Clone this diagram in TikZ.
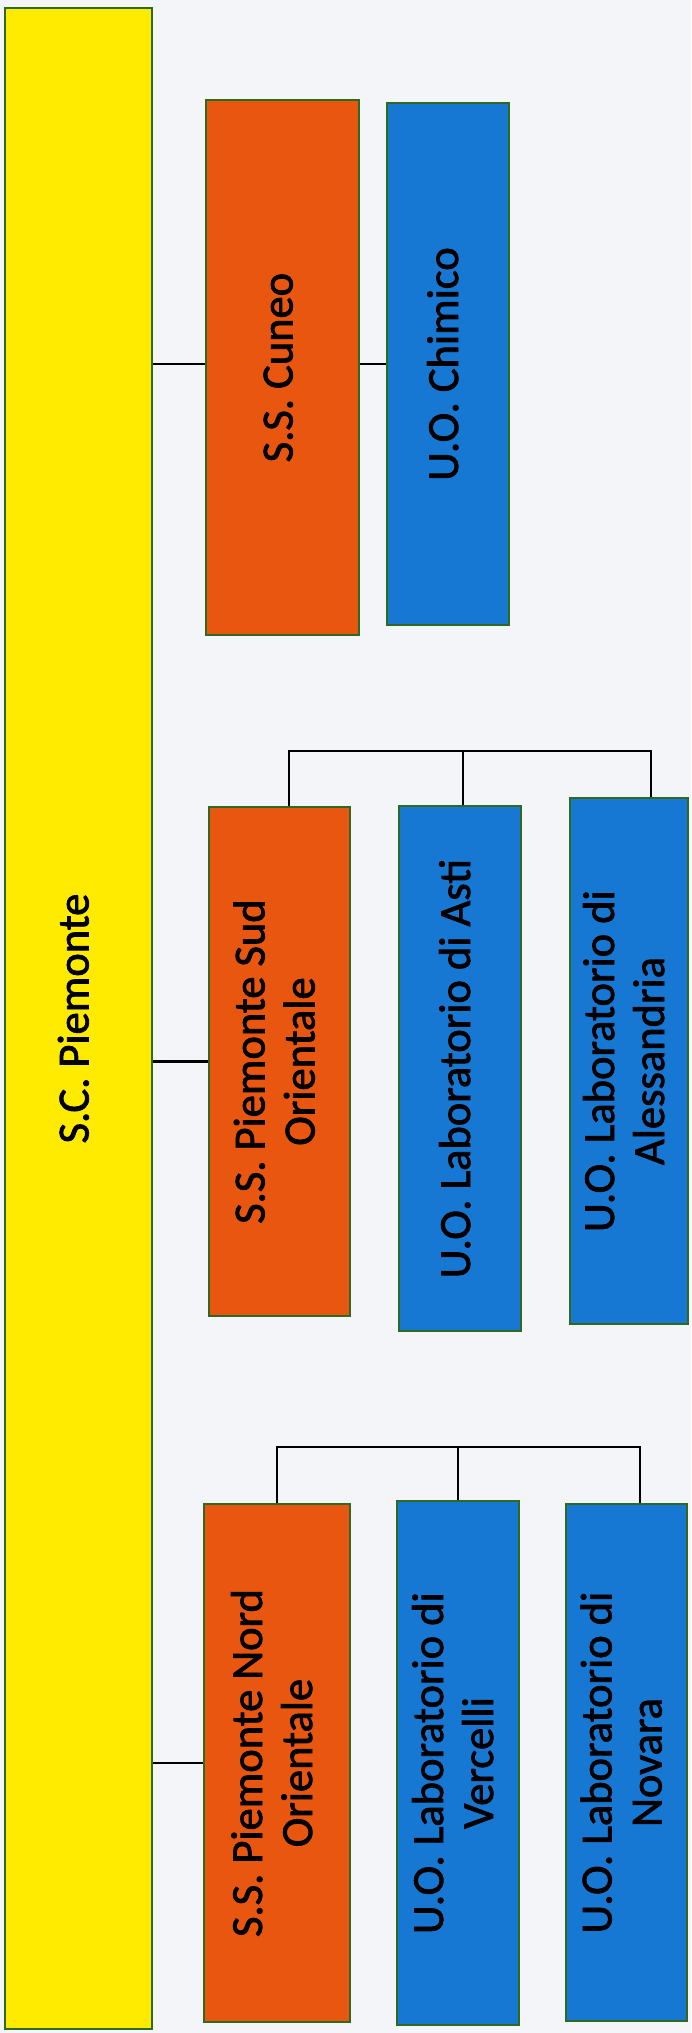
\documentclass[tikz,border=0pt]{standalone}
\usepackage{fontspec}
\setmainfont{Carlito}
\newfontfamily\boxfont{Carlito}[FakeBold=1.8]
\usetikzlibrary{calc}
\definecolor{bgcol}{HTML}{F4F5F8}
\definecolor{ylw}{HTML}{FFEB00}
\definecolor{org}{HTML}{E8560F}
\definecolor{blu}{HTML}{1678D2}
\definecolor{edgecol}{HTML}{2E6A1F}
\newcommand{\vtext}[1]{\rotatebox{90}{\begin{tabular}{@{}c@{}}#1\end{tabular}}}
\begin{document}
\begin{tikzpicture}[x=1pt,y=-1pt,
  box/.style={draw=edgecol, line width=2pt, inner sep=0pt, text=black,
    font=\boxfont\fontsize{44.5}{50}\selectfont},
  yellowbox/.style={box, fill=ylw},
  orangebox/.style={box, fill=org},
  bluebox/.style={box, fill=blu},
  link/.style={line width=2.5pt, draw=black}]
\fill[bgcol] (0,0) rectangle (691,2033);
\useasboundingbox (0,0) rectangle (691,2033);

\node[yellowbox, minimum width=147pt, minimum height=2021pt] (sc) at (78.5,1018.5) {\vtext{S.C. Piemonte}};

\node[orangebox, minimum width=153pt, minimum height=535pt] (cuneo) at (282.5,367.5) {\vtext{S.S. Cuneo}};
\node[bluebox, minimum width=122pt, minimum height=522pt] (chimico) at (448,364) {\vtext{U.O. Chimico}};

\node[orangebox, minimum width=141pt, minimum height=509pt] (sud) at (279.5,1061.5) {\vtext{S.S. Piemonte Sud\\Orientale}};
\node[bluebox, minimum width=122pt, minimum height=525pt] (asti) at (460,1068.5) {\vtext{U.O. Laboratorio di Asti}};
\node[bluebox, minimum width=118pt, minimum height=526pt] (aless) at (629,1061) {\vtext{U.O. Laboratorio di\\Alessandria}};

\node[orangebox, minimum width=146pt, minimum height=518pt] (nord) at (277,1763) {\vtext{S.S. Piemonte Nord\\Orientale}};
\node[bluebox, minimum width=122pt, minimum height=524pt] (verc) at (458,1763) {\vtext{U.O. Laboratorio di\\Vercelli}};
\node[bluebox, minimum width=121pt, minimum height=517pt] (nov) at (626.5,1762.5) {\vtext{U.O. Laboratorio di\\Novara}};

\coordinate (busS) at (0,751);
\coordinate (busN) at (0,1447);

\draw[link] (sc.east |- chimico.west) -- (cuneo.west |- chimico.west);
\draw[link] (cuneo.east |- chimico.west) -- (chimico.west);

\draw[link] (sc.east |- sud.west) -- (sud.west);
\draw[link] ([xshift=9.5pt]sud.north) |- ([xshift=22pt]aless.north |- busS) -- ([xshift=22pt]aless.north);
\draw[link] ([xshift=3pt]asti.north) -- ([xshift=3pt]asti.north |- busS);

\draw[link] (sc.east |- nord.west) -- (nord.west);
\draw[link] (nord.north) |- ([xshift=13.5pt]nov.north |- busN) -- ([xshift=13.5pt]nov.north);
\draw[link] (verc.north) -- (verc.north |- busN);
\end{tikzpicture}
\end{document}
